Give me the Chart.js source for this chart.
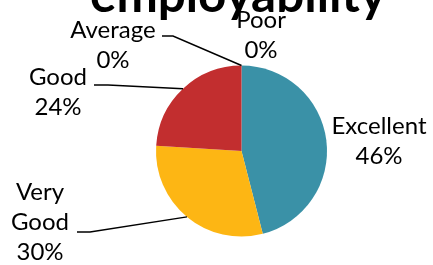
<!DOCTYPE html>
<html>
<head>
<meta charset="utf-8">
<script src="https://cdn.jsdelivr.net/npm/chart.js@4"></script>
<style>
  html, body { margin: 0; padding: 0; background: #fff; }
  #wrap { width: 433px; height: 265px; }
</style>
</head>
<body>
<div id="wrap"><canvas id="chart"></canvas></div>
<script>
const title = "employability";
const categories = ["Excellent", "Very Good", "Good", "Average", "Poor"];
const percents = [46, 30, 24, 0, 0];
const colors = ["#3a91a7", "#fdb614", "#c22e2f", "#7f7f7f", "#4f81bd"];

// where each label sits (text centre of first line) and its leader line
const labelLayout = [
  { x: 379, y: 126, lines: ["Excellent"], leader: null },
  { x: 40, y: 192, lines: ["Very", "Good"], leader: [[77, 232], [90, 232]] },
  { x: 58, y: 77, lines: ["Good"], leader: [[94, 85], [108, 85]] },
  { x: 113, y: 30, lines: ["Average"], leader: [[162, 36], [173, 36]] },
  { x: 261, y: 20, lines: ["Poor"], leader: null }
];

const FONT = "Lato, 'Open Sans', sans-serif";

const labelPlugin = {
  id: "pieLabels",
  afterDraw(chart) {
    const ctx = chart.ctx;
    const arcs = chart.getDatasetMeta(0).data;
    ctx.save();

    // title, cut off by the top edge like the original
    ctx.fillStyle = "#000";
    ctx.textAlign = "center";
    ctx.textBaseline = "alphabetic";
    let size = 40;
    ctx.font = "bold " + size + "px " + FONT;
    size = size * 296 / ctx.measureText(title).width;
    ctx.font = "bold " + size + "px " + FONT;
    ctx.fillText(title, 238, 12);

    ctx.font = "24px " + FONT;
    ctx.textBaseline = "middle";
    labelLayout.forEach((lab, i) => {
      const rows = lab.lines.concat([percents[i] + "%"]);
      rows.forEach((t, r) => ctx.fillText(t, lab.x, lab.y + r * 30));

      if (lab.leader) {
        const arc = arcs[i];
        const mid = (arc.startAngle + arc.endAngle) / 2;
        const ex = arc.x + Math.cos(mid) * arc.outerRadius;
        const ey = arc.y + Math.sin(mid) * arc.outerRadius;
        ctx.beginPath();
        ctx.strokeStyle = "#000";
        ctx.lineWidth = 1.5;
        ctx.moveTo(lab.leader[0][0], lab.leader[0][1]);
        ctx.lineTo(lab.leader[1][0], lab.leader[1][1]);
        ctx.lineTo(ex, ey);
        ctx.stroke();
      }
    });
    ctx.restore();
  }
};

new Chart(document.getElementById("chart"), {
  type: "pie",
  data: {
    labels: categories,
    datasets: [{
      data: percents,
      backgroundColor: colors,
      borderWidth: 0
    }]
  },
  options: {
    responsive: true,
    maintainAspectRatio: false,
    animation: false,
    layout: { padding: { left: 156, right: 106, top: 65, bottom: 28 } },
    plugins: {
      legend: { display: false },
      tooltip: { enabled: false }
    }
  },
  plugins: [labelPlugin]
});
</script>
</body>
</html>
